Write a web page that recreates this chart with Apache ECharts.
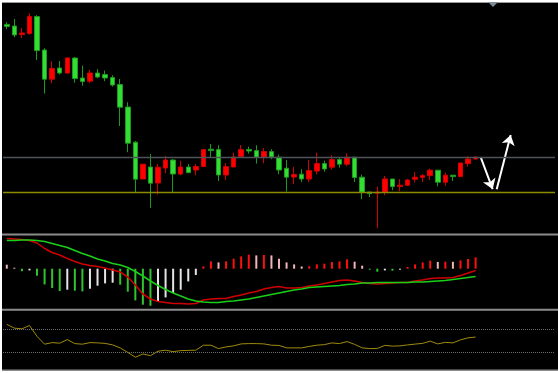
<!DOCTYPE html>
<html><head><meta charset="utf-8">
<script src="https://cdn.jsdelivr.net/npm/echarts@6/dist/echarts.min.js"></script>
<style>
html,body{margin:0;padding:0;background:#fff;width:558px;height:373px;overflow:hidden}
#c{position:absolute;left:2px;top:2px;width:556px;height:369px;background:#000}
</style>
</head><body><div id="c"></div>
<script>
// ---- data ----
const slotCount = 73; // visible bar slots (63 bars + empty space on the right)
const categories = [];
for (let i = 1; i <= slotCount; i++) categories.push('K' + i);

// [open, close, low, high]
const kline = [
  [18.78,18.68,18.54,18.89],[18.70,18.25,18.14,19.05],[18.27,18.35,18.10,18.60],[18.32,19.17,18.27,19.34],
  [19.17,17.47,17.00,19.24],[17.50,16.04,15.32,17.59],[16.04,16.57,15.84,16.94],[16.60,16.35,16.27,16.95],
  [16.35,17.10,16.30,17.14],[17.10,16.07,15.87,17.14],[16.10,15.92,15.72,16.72],[15.94,16.35,15.84,16.50],
  [16.35,16.15,16.09,16.54],[16.27,16.10,15.94,16.47],[16.12,15.75,15.67,16.24],[15.77,14.64,13.70,16.05],
  [14.65,12.84,12.39,14.89],[12.89,11.04,10.37,12.95],[11.05,11.79,11.05,11.79],[11.65,10.84,9.60,12.30],
  [10.85,11.64,10.27,11.80],[11.60,12.00,11.34,12.20],[12.00,11.30,10.37,12.04],[11.30,11.65,11.24,11.97],
  [11.65,11.37,11.34,11.80],[11.50,11.67,11.24,11.80],[11.67,12.52,11.67,12.54],[12.54,12.47,12.12,12.80],
  [12.52,11.25,10.95,12.74],[11.25,11.67,11.00,11.84],[11.65,12.15,11.65,12.37],[12.17,12.52,12.17,12.75],
  [12.52,12.45,12.32,12.67],[12.47,12.14,11.82,12.74],[12.15,12.42,11.84,12.60],[12.42,12.15,12.04,12.54],
  [12.14,11.50,11.29,12.27],[11.59,11.14,10.42,12.00],[11.15,11.27,10.79,11.65],[11.29,11.05,10.90,11.54],
  [11.05,11.47,10.90,12.00],[11.45,11.82,11.29,12.37],[11.82,11.55,11.42,11.97],[11.64,12.02,11.52,12.24],
  [12.02,11.79,11.62,12.14],[11.79,12.14,11.69,12.34],[12.14,11.12,10.90,12.14],[11.14,10.39,10.04,11.27],
  [10.40,10.32,10.15,10.40],[10.34,10.40,8.59,10.67],[10.39,11.05,10.24,11.20],[11.05,10.67,10.49,11.05],
  [10.67,10.74,10.44,11.04],[10.74,11.00,10.70,11.04],[11.04,11.14,10.87,11.40],[11.12,11.22,10.90,11.30],
  [11.22,11.49,11.00,11.57],[11.49,10.89,10.69,11.49],[10.89,11.24,10.72,11.37],[11.24,11.17,10.95,11.24],
  [11.17,11.85,11.14,11.85],[11.82,12.05,11.67,12.19],[12.05,12.14,12.02,12.19]
];

const resistanceLevel = 12.14;
const supportLevel = 10.40;
const priceMin = 8.40, priceMax = 19.85;

// arrows drawn on a continuous bar-index scale
const arrowDown = [[62.67, 12.14], [64.26, 10.54]];
const arrowUp = [[64.79, 10.54], [66.64, 13.25]];

// MACD
const dif = [-0.07,-0.08,-0.09,-0.11,-0.16,-0.27,-0.35,-0.40,-0.47,-0.53,-0.58,-0.61,-0.63,-0.66,-0.70,-0.74,-0.84,-1.00,-1.18,-1.28,-1.33,-1.35,-1.37,-1.37,-1.38,-1.37,-1.30,-1.28,-1.27,-1.27,-1.23,-1.20,-1.16,-1.13,-1.08,-1.05,-1.03,-1.06,-1.06,-1.05,-1.02,-1.00,-0.97,-0.94,-0.91,-0.90,-0.92,-0.95,-0.97,-0.98,-0.97,-0.96,-0.95,-0.95,-0.92,-0.90,-0.87,-0.86,-0.86,-0.85,-0.81,-0.76,-0.71];
const dea = [-0.11,-0.11,-0.10,-0.10,-0.11,-0.13,-0.17,-0.21,-0.25,-0.31,-0.37,-0.42,-0.48,-0.52,-0.57,-0.60,-0.65,-0.73,-0.82,-0.92,-1.01,-1.09,-1.16,-1.22,-1.28,-1.32,-1.34,-1.35,-1.35,-1.33,-1.32,-1.30,-1.28,-1.25,-1.22,-1.19,-1.16,-1.13,-1.10,-1.08,-1.05,-1.04,-1.03,-1.02,-1.01,-0.99,-0.98,-0.96,-0.96,-0.95,-0.95,-0.95,-0.95,-0.95,-0.94,-0.94,-0.93,-0.92,-0.91,-0.89,-0.87,-0.85,-0.83];
const histBefore = 0.06; // bar just before the visible window
const hist = [0.04,0.01,-0.025,-0.017,-0.07,-0.157,-0.193,-0.223,-0.21,-0.22,
  -0.227,-0.20,-0.17,-0.147,-0.14,-0.16,-0.23,-0.317,-0.36,-0.37,
  -0.327,-0.287,-0.243,-0.21,-0.127,-0.063,0.023,0.073,0.063,0.073,
  0.10,0.123,0.14,0.133,0.137,0.133,0.10,0.063,0.043,0.022,
  0.025,0.043,0.05,0.067,0.073,0.093,0.07,0.03,-0.01,-0.03,
  -0.017,-0.02,-0.01,0.017,0.043,0.063,0.08,0.068,0.07,0.069,
  0.083,0.097,0.113];

// RSI
const rsi = [77.6,71.2,70.0,75.6,57.4,44.2,46.9,45.9,52.0,45.2,44.2,46.9,46.4,45.6,43.0,38.0,30.4,22.3,27.8,25.0,32.4,34.1,31.7,33.4,33.8,34.1,42.5,42.5,36.8,39.7,41.4,44.7,45.2,45.2,44.7,42.5,42.2,38.0,38.0,38.0,40.5,42.5,43.5,46.4,45.2,48.6,43.9,38.0,36.8,37.1,42.2,41.0,41.4,43.0,44.4,45.6,49.3,44.7,47.3,46.4,51.5,54.9,56.2];
const rsiLevels = [70, 30];

// ---- chart ----
const C_UP = '#ff1010', C_UP_FADE = '#f0b4bc', C_DN = '#2fc42f', C_DN_FADE = '#e4e4e4';
function histColor(i) {
  const v = hist[i], p = i > 0 ? hist[i - 1] : histBefore;
  if (v >= 0) return v >= p ? C_UP : C_UP_FADE;
  return v <= p ? C_DN : C_DN_FADE;
}

const chart = echarts.init(document.getElementById('c'), null, {renderer: 'canvas'});
const hiddenCat = (g) => ({type: 'category', gridIndex: g, data: categories, boundaryGap: true, show: false});
chart.setOption({
  animation: false,
  backgroundColor: '#000',
  grid: [
    {left: 1, right: 3, top: 1, height: 229},
    {left: 1, right: 3, top: 233, height: 74},
    {left: 1, right: 3, top: 309, height: 59.5}
  ],
  xAxis: [
    hiddenCat(0), hiddenCat(1), hiddenCat(2),
    {type: 'value', gridIndex: 0, min: -0.5, max: slotCount - 0.5, show: false}
  ],
  yAxis: [
    {type: 'value', gridIndex: 0, min: priceMin, max: priceMax, show: false, splitLine: {show: false}},
    {type: 'value', gridIndex: 1, min: -1.48, max: 0, show: false, splitLine: {show: false}},
    {type: 'value', gridIndex: 1, min: -0.403, max: 0.337, show: false, splitLine: {show: false}},
    {type: 'value', gridIndex: 2, min: 0, max: 100, show: false, splitLine: {show: false}}
  ],
  graphic: [
    {type: 'line', shape: {x1: 0, y1: 0.5, x2: 556, y2: 0.5}, style: {stroke: '#9a9a9a', lineWidth: 1}, silent: true},
    {type: 'line', shape: {x1: 0, y1: 232.5, x2: 556, y2: 232.5}, style: {stroke: '#8c8c8c', lineWidth: 2}, silent: true},
    {type: 'line', shape: {x1: 0, y1: 307.8, x2: 556, y2: 307.8}, style: {stroke: '#8c8c8c', lineWidth: 2}, silent: true},
    {type: 'line', shape: {x1: 0, y1: 368.3, x2: 556, y2: 368.3}, style: {stroke: '#8c8c8c', lineWidth: 1.5}, silent: true},
    {type: 'polygon', shape: {points: [[486, 0], [496, 0], [491, 5]]}, style: {fill: '#7d8b99'}, silent: true}
  ],
  series: [
    {
      type: 'candlestick', xAxisIndex: 0, yAxisIndex: 0, data: kline, barWidth: 5,
      itemStyle: {color: '#ff0000', color0: '#33dd33', borderColor: '#d40000', borderColor0: '#1e9a1e', borderWidth: 1},
      markLine: {
        silent: true, symbol: ['none', 'none'], label: {show: false},
        data: [
          {yAxis: resistanceLevel, lineStyle: {color: '#4e535a', width: 1.3, type: 'solid'}},
          {yAxis: supportLevel, lineStyle: {color: '#8c8c00', width: 1.3, type: 'solid'}}
        ]
      }
    },
    {
      type: 'lines', coordinateSystem: 'cartesian2d', xAxisIndex: 3, yAxisIndex: 0,
      symbol: ['none', 'arrow'], symbolSize: 10,
      lineStyle: {color: '#ffffff', width: 2, opacity: 1},
      data: [{coords: arrowDown}, {coords: arrowUp}], silent: true
    },
    {
      type: 'bar', xAxisIndex: 1, yAxisIndex: 2, data: hist, barWidth: 2,
      itemStyle: {color: (p) => histColor(p.dataIndex)}
    },
    {
      type: 'line', xAxisIndex: 1, yAxisIndex: 1, data: dif, symbol: 'none',
      lineStyle: {color: '#d00000', width: 1.5}
    },
    {
      type: 'line', xAxisIndex: 1, yAxisIndex: 1, data: dea, symbol: 'none',
      lineStyle: {color: '#18d018', width: 1.5}
    },
    {
      type: 'line', xAxisIndex: 2, yAxisIndex: 3, data: rsi, symbol: 'none',
      lineStyle: {color: '#a08a10', width: 1},
      markLine: {
        silent: true, symbol: ['none', 'none'], label: {show: false},
        lineStyle: {color: '#6e6e6e', type: 'dotted', width: 1},
        data: rsiLevels.map(v => ({yAxis: v}))
      }
    }
  ]
});
</script>
</body></html>
